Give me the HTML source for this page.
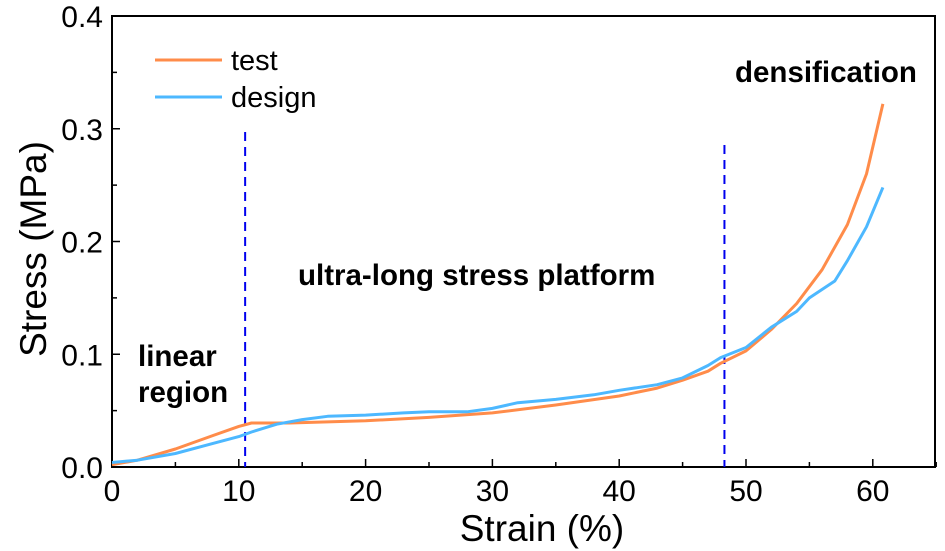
<!DOCTYPE html>
<html><head><meta charset="utf-8"><style>
body{margin:0;background:#fff}
svg{display:block;font-family:"Liberation Sans",Arial,sans-serif}
</style></head><body>
<svg width="945" height="551">
<g id="g"></g>
</svg>
<script>
const testStrain=[0,2,5,8,10,11,14,20,25,30,35,40,43,45,47,48,50,52,54,56,58,59.5,60.8];
const testStress=[0.002,0.006,0.016,0.028,0.036,0.039,0.039,0.041,0.044,0.048,0.055,0.063,0.070,0.077,0.085,0.092,0.103,0.122,0.145,0.175,0.215,0.26,0.322];
const designStrain=[0,2,5,8,10,11,13,15,17,20,23,25,28,30,32,35,38,40,43,45,47,48,50,52,54,55,57,58,59.5,60.8];
const designStress=[0.004,0.006,0.012,0.021,0.027,0.031,0.038,0.042,0.045,0.046,0.048,0.049,0.049,0.052,0.057,0.060,0.064,0.068,0.073,0.079,0.090,0.097,0.106,0.124,0.138,0.150,0.165,0.183,0.213,0.248];
const xTicks=[0,10,20,30,40,50,60];
const yTicks=[0.0,0.1,0.2,0.3,0.4];
const dividers=[10.5,48.3];
const L=112,R=935,T=16,B=467;
const X=v=>L+v*12.68, Y=v=>B-v*(B-T)/0.4;
const g=document.getElementById('g');
const NS='http://www.w3.org/2000/svg';
function mk(t,a,txt){const e=document.createElementNS(NS,t);for(const k in a)e.setAttribute(k,a[k]);if(txt!==undefined)e.textContent=txt;g.appendChild(e);return e;}
let e;
e=mk('rect',{x:L,y:T,width:R-L,height:B-T,fill:'none',stroke:'#000','stroke-width':2});


xTicks.forEach(v=>{
 e=mk('line',{x1:X(v),x2:X(v),y1:B,y2:B-8,stroke:'#000','stroke-width':1.5});
 
 
 e=mk('line',{x1:X(v+5),x2:X(v+5),y1:B,y2:B-5,stroke:'#000','stroke-width':1.5});
 
 
 e=mk('text',{x:X(v),y:B+34,'font-size':30,'text-anchor':'middle'},String(v));
 
 
});
yTicks.forEach(v=>{
 e=mk('line',{x1:L,x2:L+8,y1:Y(v),y2:Y(v),stroke:'#000','stroke-width':1.5});
 
 
 if(v<0.4){e=mk('line',{x1:L,x2:L+5,y1:Y(v+0.05),y2:Y(v+0.05),stroke:'#000','stroke-width':1.5});
 
 }
 e=mk('text',{x:L-9,y:Y(v)+11,'font-size':30,'text-anchor':'end'},v.toFixed(1));
 
 
});
e=mk('text',{x:542,y:541,'font-size':37,'text-anchor':'middle'},'Strain (%)');


e=mk('text',{x:0,y:0,'font-size':37,'text-anchor':'middle',transform:'translate(46,249) rotate(-90)'},'Stress (MPa)');


const topY=[132,145];
dividers.forEach((v,i)=>{
 e=mk('line',{x1:X(v),x2:X(v),y1:topY[i],y2:B,stroke:'#0000ee','stroke-width':2,'stroke-dasharray':'9,6'});
 
 
});
function path(xs,ys,c,name){
 const d=xs.map((x,i)=>(i?'L':'M')+X(x).toFixed(1)+','+Y(ys[i]).toFixed(1)).join('');
 e=mk('path',{d:d,fill:'none',stroke:c,'stroke-width':3,'stroke-linejoin':'round'});
 
 
}
path(testStrain,testStress,'#ff8c4a','test-line');
path(designStrain,designStress,'#4db8ff','design-line');
const leg=[['test','#ff8c4a',60],['design','#4db8ff',97]];
leg.forEach(l=>{
 e=mk('line',{x1:155,x2:222,y1:l[2],y2:l[2],stroke:l[1],'stroke-width':3});
 
 
 e=mk('text',{x:231,y:l[2]+10,'font-size':29},l[0]);
 
 
});
const ann=[['linear',138,366],['region',138,402],['ultra-long stress platform',298,285],['densification',735,82]];
ann.forEach(a=>{
 e=mk('text',{x:a[1],y:a[2],'font-size':29.5,'font-weight':'bold'},a[0]);
 
 
});
</script>
</body></html>
